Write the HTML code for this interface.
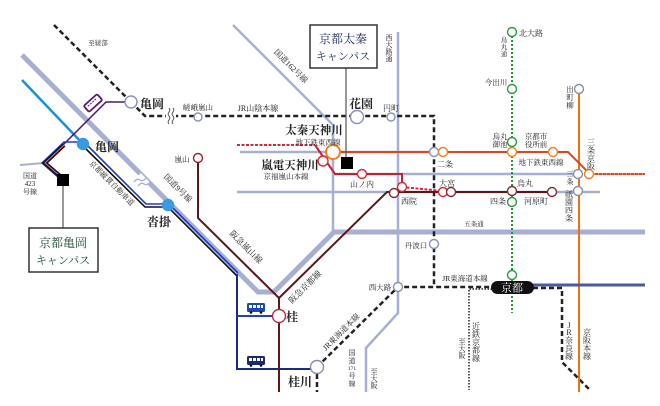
<!DOCTYPE html>
<html><head><meta charset="utf-8">
<style>
html,body{margin:0;padding:0;background:#fff;}
svg{display:block;}
text{font-family:"Liberation Serif","Noto Serif CJK JP","Noto Serif CJK SC",serif;fill:#222;}
.b{font-weight:bold;}
</style></head><body>
<svg width="660" height="406" viewBox="0 0 660 406" xmlns="http://www.w3.org/2000/svg">
<rect width="660" height="406" fill="#fff"/>

<!-- roads -->
<g fill="none" stroke="#a7b0d2">
  <polyline points="22,55 258,292 274,292 334,232 645,232" stroke-width="5"/>
  <polyline points="233,25 333,125 333,232" stroke-width="2.5"/>
  <polyline points="398,32 398,313 366,348 366,392" stroke-width="2.5"/>
  <line x1="240" y1="152" x2="440" y2="152" stroke-width="2.5"/>
  <line x1="333" y1="174" x2="575" y2="174" stroke-width="2.5"/>
  <line x1="237" y1="192" x2="600" y2="192" stroke-width="2.5"/>
  <line x1="20" y1="165" x2="44" y2="163" stroke-width="2"/>
</g>
<!-- break on route 9 -->
<line x1="138" y1="176" x2="147" y2="185" stroke="#fff" stroke-width="8"/>
<path d="M134,182 q3,-4 6,-2 q3,2 6,-2" fill="none" stroke="#a7b0d2" stroke-width="1.3"/>
<path d="M138,186 q3,-4 6,-2 q3,2 6,-2" fill="none" stroke="#a7b0d2" stroke-width="1.3"/>

<!-- light blue JR -->
<line x1="22" y1="80" x2="83" y2="144" stroke="#1890e0" stroke-width="2.5"/>

<!-- purple bus line -->
<polyline points="127,102 106,102 46,162" fill="none" stroke="#4a1a6a" stroke-width="1.5"/>

<!-- bundle to Kameoka campus -->
<polyline points="83,142 64,142 42,163 58,177" fill="none" stroke="#1a3ad0" stroke-width="1.5"/>
<polyline points="64,145 45,163 60,176" fill="none" stroke="#111" stroke-width="4"/>
<polyline points="64,145 45,163 60,176" fill="none" stroke="#e07090" stroke-width="1"/>

<!-- Kyoto Jukan double line -->
<polyline points="83,146 145,207 168,207 237,276" fill="none" stroke="#111" stroke-width="1.6"/>
<polyline points="85,143 146,204 169,204 238,273" fill="none" stroke="#1a3ad0" stroke-width="1.6"/>
<polyline points="237,274 237,369 312,369" fill="none" stroke="#1a2a8a" stroke-width="2"/>
<line x1="237" y1="316" x2="273" y2="316" stroke="#2040c0" stroke-width="2"/>

<!-- JR dashed lines -->
<g fill="none" stroke="#222" stroke-width="2.5" stroke-dasharray="5,3">
  <line x1="54" y1="25" x2="131" y2="102"/>
  <polyline points="131,102 145,116 434,116 434,287"/>
  <polyline points="317,367 398,287 492,287"/>
  <line x1="317" y1="374" x2="317" y2="392"/>
  <polyline points="533,288 562,288 562,362 590,390"/>
</g>
<!-- squiggle on JR -->
<rect x="166" y="108" width="10" height="17" fill="#fff"/>
<path d="M169,108 c3,3 -3,5 0,8 c3,3 -3,5 0,8" fill="none" stroke="#555" stroke-width="1"/>
<path d="M173,108 c3,3 -3,5 0,8 c3,3 -3,5 0,8" fill="none" stroke="#555" stroke-width="1"/>

<!-- Kintetsu dotted -->
<polyline points="492,289 469,289 469,390" fill="none" stroke="#222" stroke-width="1.5" stroke-dasharray="1.5,1.5"/>

<!-- Karasuma green dotted -->
<line x1="512" y1="32" x2="512" y2="313" stroke="#1e9a2e" stroke-width="2" stroke-dasharray="2,2"/>

<!-- Keihan orange -->
<line x1="579" y1="89" x2="579" y2="392" stroke="#f07018" stroke-width="2"/>

<!-- Tozai line -->
<polyline points="333,152 568,152 590,174 645,174" fill="none" stroke="#e0461e" stroke-width="2"/>
<line x1="590" y1="174" x2="645" y2="174" stroke="#fff" stroke-width="0.8" stroke-dasharray="1,3"/>

<!-- Keifuku red -->
<line x1="237" y1="145" x2="315" y2="145" stroke="#d42a36" stroke-width="2" stroke-dasharray="3,1.5"/>
<polyline points="315,145 335,174 402,174 402,186" fill="none" stroke="#c82030" stroke-width="2"/>
<polyline points="402,187 443,191" fill="none" stroke="#d42a36" stroke-width="2" stroke-dasharray="3,1.5"/>

<!-- Hankyu -->
<polyline points="198,158 198,218 279,298 279,392" fill="none" stroke="#5a1818" stroke-width="2"/>
<polyline points="279,298 387,192 552,192" fill="none" stroke="#5a1818" stroke-width="2"/>

<!-- Navy line east of Kyoto -->
<line x1="533" y1="285" x2="645" y2="285" stroke="#4a5aa0" stroke-width="3"/>

<!-- campus connectors -->
<line x1="346" y1="68" x2="346" y2="157" stroke="#555" stroke-width="1.2"/>
<line x1="63" y1="186" x2="63" y2="228" stroke="#555" stroke-width="1.2"/>
<rect x="341" y="157" width="12" height="12" fill="#000"/>
<rect x="57" y="174" width="12" height="12" fill="#000"/>

<!-- stations -->
<g fill="#fff" stroke-width="1.4">
  <circle cx="131" cy="102" r="6" stroke="#8890c0"/>
  <circle cx="198" cy="117" r="4" stroke="#8890c0"/>
  <circle cx="357" cy="117" r="6.5" stroke="#8890c0"/>
  <circle cx="391" cy="117" r="4" stroke="#8890c0"/>
  <circle cx="434" cy="152" r="4.5" stroke="#8890c0"/>
  <circle cx="443" cy="152" r="4.5" stroke="#f08020"/>
  <circle cx="333" cy="152" r="7" stroke="#f08020" stroke-width="2"/>
  <circle cx="323" cy="161" r="5" stroke="#d42a36"/>
  <circle cx="362" cy="174" r="4.5" stroke="#d42a36"/>
  <circle cx="402" cy="187" r="4.5" stroke="#d42a36"/>
  <circle cx="394" cy="193" r="4.5" stroke="#8a2a30"/>
  <circle cx="443" cy="192" r="4.5" stroke="#d42a36"/>
  <circle cx="451" cy="192" r="4.5" stroke="#8a2a30"/>
  <circle cx="512" cy="191" r="4.5" stroke="#8a2a30"/>
  <circle cx="512" cy="202" r="4.5" stroke="#2a9a3a"/>
  <circle cx="512" cy="142" r="4.5" stroke="#2a9a3a"/>
  <circle cx="512" cy="152" r="4.5" stroke="#f08020"/>
  <circle cx="553" cy="152" r="4.5" stroke="#f08020"/>
  <circle cx="552" cy="192" r="4.5" stroke="#8a2a30"/>
  <circle cx="578" cy="174" r="4.5" stroke="#8890a8"/>
  <circle cx="589" cy="174" r="4.5" stroke="#f08020"/>
  <circle cx="578" cy="191" r="4.5" stroke="#8890a8"/>
  <circle cx="579" cy="89" r="4.5" stroke="#8890a8"/>
  <circle cx="512" cy="32" r="4.5" stroke="#2a9a3a"/>
  <circle cx="512" cy="89" r="4.5" stroke="#2a9a3a"/>
  <circle cx="434" cy="244" r="4.5" stroke="#8890c0"/>
  <circle cx="398" cy="287" r="4.5" stroke="#8890a8"/>
  <circle cx="512" cy="275" r="4.5" stroke="#2a9a3a"/>
  <circle cx="317" cy="367" r="6.5" stroke="#8890a8"/>
  <circle cx="279" cy="316" r="6.5" stroke="#b83040"/>
  <circle cx="198" cy="158" r="4.5" stroke="#a02030"/>
  <circle cx="83" cy="144" r="5.5" stroke="#3a9ae0" fill="#3a9ae0"/>
  <circle cx="168" cy="205" r="5.5" stroke="#3a9ae0" fill="#3a9ae0"/>
</g>

<!-- Kyoto pill -->
<rect x="491" y="281" width="43" height="13" rx="6.5" fill="#111"/>
<text x="512" y="291.5" font-size="11" text-anchor="middle" style="fill:#fff">京都</text>

<!-- campus boxes -->
<rect x="310" y="25" width="67" height="43" fill="#fff" stroke="#333" stroke-width="1.5"/>
<text x="343" y="43" font-size="12" text-anchor="middle" style="fill:#1a2a5a">京都太秦</text>
<text x="343" y="60" font-size="11" text-anchor="middle" style="fill:#1a2a5a">キャンパス</text>
<rect x="29" y="228" width="69" height="44" fill="#fff" stroke="#333" stroke-width="1.5"/>
<text x="63" y="247" font-size="12" text-anchor="middle" style="fill:#1a4a2a">京都亀岡</text>
<text x="63" y="264" font-size="11" text-anchor="middle" style="fill:#1a4a2a">キャンパス</text>

<!-- buses -->
<g transform="translate(93,103) rotate(-42)">
  <rect x="-9" y="-4" width="18" height="8" rx="1.5" fill="#fff" stroke="#5a1a7a" stroke-width="1.8"/>
  <line x1="-6" y1="-1" x2="6" y2="-1" stroke="#5a1a7a" stroke-width="1" stroke-dasharray="2,1"/>
</g>
<g transform="translate(247,303)">
  <rect x="0" y="0" width="18" height="9" rx="1.5" fill="#1a4ab0"/>
  <rect x="2" y="2" width="3" height="3" fill="#fff"/><rect x="6" y="2" width="3" height="3" fill="#fff"/><rect x="10" y="2" width="3" height="3" fill="#fff"/><rect x="14" y="2" width="2" height="3" fill="#fff"/>
  <circle cx="4" cy="9.5" r="1.3" fill="#111"/><circle cx="14" cy="9.5" r="1.3" fill="#111"/>
</g>
<g transform="translate(247,356)">
  <rect x="0" y="0" width="18" height="9" rx="1.5" fill="#1a2a70"/>
  <rect x="2" y="2" width="3" height="3" fill="#fff"/><rect x="6" y="2" width="3" height="3" fill="#fff"/><rect x="10" y="2" width="3" height="3" fill="#fff"/><rect x="14" y="2" width="2" height="3" fill="#fff"/>
  <circle cx="4" cy="9.5" r="1.3" fill="#111"/><circle cx="14" cy="9.5" r="1.3" fill="#111"/>
</g>

<!-- labels horizontal -->
<g font-size="7.5" text-anchor="middle">
  <text x="98" y="45" font-size="6.5">至綾部</text>
  <text x="198" y="110">嵯峨嵐山</text>
  <text x="258" y="111" font-size="8">JR山陰本線</text>
  <text x="391" y="111" font-size="8">円町</text>
  <text x="318" y="145">地下鉄東西線</text>
  <text x="286" y="179">京福嵐山本線</text>
  <text x="362" y="187" font-size="8">山ノ内</text>
  <text x="409" y="204" font-size="8">西院</text>
  <text x="447" y="186" font-size="8">大宮</text>
  <text x="445" y="167" font-size="8">二条</text>
  <text x="500" y="139">烏丸</text>
  <text x="500" y="147">御池</text>
  <text x="536" y="139">京都市</text>
  <text x="536" y="147">役所前</text>
  <text x="541" y="165">地下鉄東西線</text>
  <text x="525" y="186" font-size="8">烏丸</text>
  <text x="498" y="204" font-size="8">四条</text>
  <text x="536" y="204" font-size="8">河原町</text>
  <text x="474" y="226" font-size="6.5">五条通</text>
  <text x="416" y="248">丹波口</text>
  <text x="496" y="85">今出川</text>
  <text x="182" y="162">嵐山</text>
  <text x="30" y="178" font-size="7">国道</text>
  <text x="30" y="186" font-size="7">423</text>
  <text x="30" y="194" font-size="7">号線</text>
  <text x="380" y="290">西大路</text>
  <text x="465" y="281">JR東海道本線</text>
  <text x="531" y="36" font-size="8">北大路</text>
</g>
<!-- large labels -->
<g font-size="12" class="b">
  <text x="140" y="108">亀岡</text>
  <text x="95" y="151">亀岡</text>
  <text x="159" y="226" text-anchor="middle">沓掛</text>
  <text x="361" y="108" text-anchor="middle">花園</text>
  <text x="314" y="134" text-anchor="middle" font-size="11.5">太秦天神川</text>
  <text x="290" y="169" text-anchor="middle" font-size="11.5">嵐電天神川</text>
  <text x="286" y="321">桂</text>
  <text x="300" y="386" text-anchor="middle">桂川</text>
</g>

<!-- rotated labels -->
<g text-anchor="middle">
  <text transform="translate(289,68) rotate(45)" font-size="8">国道162号線</text>
  <text transform="translate(176,190) rotate(45)" font-size="8">国道9号線</text>
  <text transform="translate(110,185) rotate(45)" font-size="7.5">京都縦貫自動車道</text>
  <text transform="translate(244,249) rotate(45)" font-size="8.5">阪急嵐山線</text>
  <text transform="translate(307,289) rotate(-45)" font-size="8.5">阪急京都線</text>
  <text transform="translate(343,334) rotate(-45)" font-size="8">JR東海道本線</text>
</g>

<!-- vertical labels -->
<g text-anchor="middle">
  <text font-size="7"><tspan x="389" y="40">西</tspan><tspan x="389" y="47">大</tspan><tspan x="389" y="54">路</tspan><tspan x="389" y="61">通</tspan></text>
  <text font-size="6.5"><tspan x="504" y="42">烏</tspan><tspan x="504" y="49">丸</tspan><tspan x="504" y="56">通</tspan></text>
  <text font-size="7.5"><tspan x="570" y="92">出</tspan><tspan x="570" y="100">町</tspan><tspan x="570" y="108">柳</tspan></text>
  <text font-size="8"><tspan x="591" y="145">三</tspan><tspan x="591" y="153">条</tspan><tspan x="591" y="161">京</tspan><tspan x="591" y="169">阪</tspan></text>
  <text font-size="7"><tspan x="570" y="176">三</tspan><tspan x="570" y="184">条</tspan></text>
  <text font-size="8"><tspan x="569" y="197">祇</tspan><tspan x="569" y="205">園</tspan><tspan x="569" y="213">四</tspan><tspan x="569" y="221">条</tspan></text>
  <text font-size="7"><tspan x="352" y="355">国</tspan><tspan x="352" y="363">道</tspan><tspan x="352" y="370" font-size="5.5">171</tspan><tspan x="352" y="378">号</tspan><tspan x="352" y="386">線</tspan></text>
  <text font-size="7"><tspan x="374" y="374">至</tspan><tspan x="374" y="381">大</tspan><tspan x="374" y="388">阪</tspan></text>
  <text font-size="8"><tspan x="476" y="329">近</tspan><tspan x="476" y="337">鉄</tspan><tspan x="476" y="345">京</tspan><tspan x="476" y="353">都</tspan><tspan x="476" y="361">線</tspan></text>
  <text font-size="7"><tspan x="462" y="344">至</tspan><tspan x="462" y="351">大</tspan><tspan x="462" y="358">阪</tspan></text>
  <text font-size="8"><tspan x="569" y="328">J</tspan><tspan x="569" y="335">R</tspan><tspan x="569" y="343">奈</tspan><tspan x="569" y="351">良</tspan><tspan x="569" y="359">線</tspan></text>
  <text font-size="8"><tspan x="587" y="335">京</tspan><tspan x="587" y="343">阪</tspan><tspan x="587" y="351">本</tspan><tspan x="587" y="359">線</tspan></text>
</g>
</svg>
</body></html>
